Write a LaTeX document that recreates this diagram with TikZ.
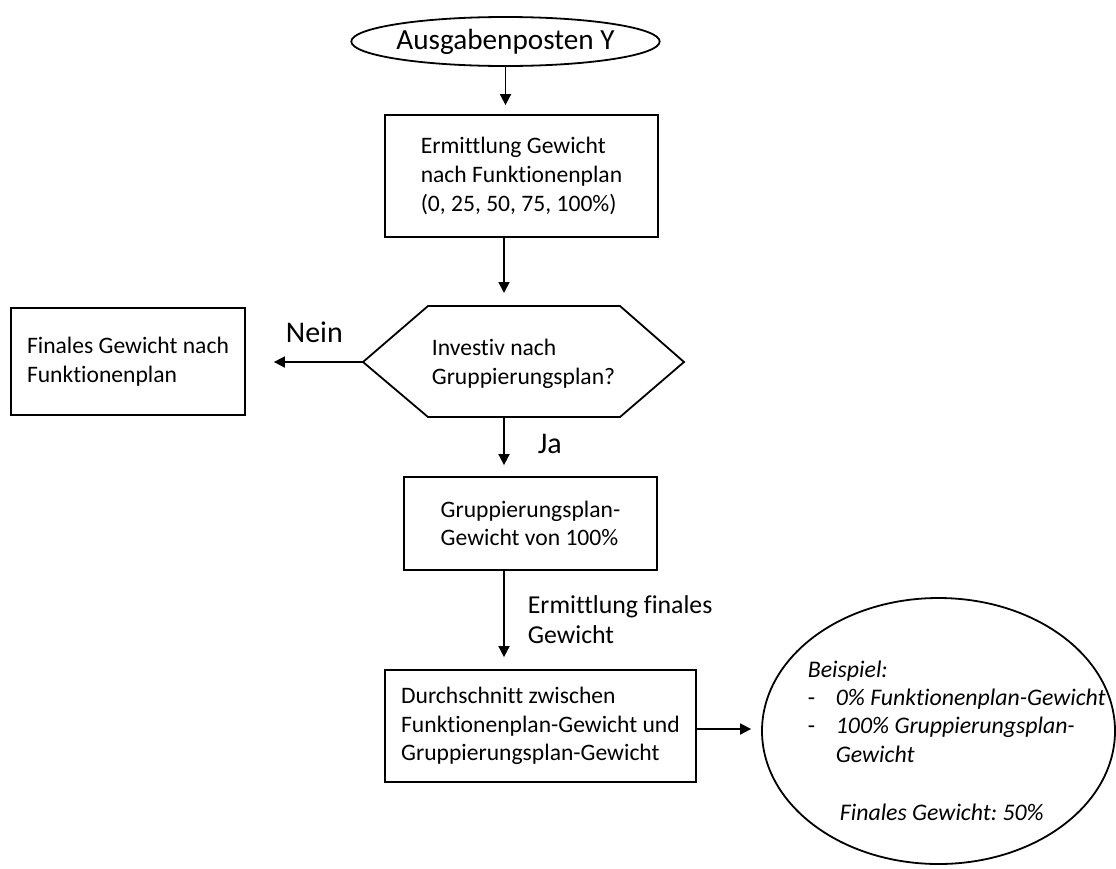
\documentclass[tikz,border=0pt]{standalone}
\usepackage{fontspec}
\setmainfont{Carlito}[Ligatures=NoCommon]
\frenchspacing
\usetikzlibrary{shapes.geometric,arrows.meta}
\begin{document}
\begin{tikzpicture}[x=1pt,y=-1pt, line width=1.8pt,
  box/.style={draw, rectangle, align=left, inner sep=0pt, font=\fontsize{23.6}{28.6}\selectfont},
  arr/.style={-{Triangle[length=11pt,width=11pt]}, shorten >=10pt},
  lbl/.style={font=\fontsize{30}{30}\selectfont, inner sep=0pt, anchor=base west, align=left}]
\useasboundingbox (0,0) rectangle (1116,868);

\node[draw, ellipse, minimum width=265pt, minimum height=49pt, inner sep=0pt,
      font=\fontsize{29.2}{30}\selectfont] (title) at (505.5,41.5) {Ausgabenposten Y};

\node[box, minimum width=273pt, minimum height=122pt] (b1) at (521.5,176)
  {Ermittlung Gewicht\\nach Funktionenplan\\(0, 25, 50, 75, 100\%)};

\coordinate (hexW) at (363,362);
\coordinate (hexE) at (684,362);
\coordinate (hexN) at (504,306);
\coordinate (hexS) at (504,417);
\draw (hexW) -- (428,306) -- (620,306) -- (hexE) -- (620,417) -- (428,417) -- cycle;
\node[box, draw=none] (hex) at (523.5,364) {Investiv nach\\Gruppierungsplan?};

\node[box, minimum width=234pt, minimum height=107pt] (b2) at (128,361.5)
  {Finales Gewicht nach\\Funktionenplan};

\node[box, minimum width=253pt, minimum height=93pt] (b3) at (530.5,523.5)
  {Gruppierungsplan-\\Gewicht von 100\%};

\node[box, minimum width=311pt, minimum height=112pt] (b4) at (540.5,726)
  {Durchschnitt zwischen\\Funktionenplan-Gewicht und\\Gruppierungsplan-Gewicht};

\node[draw, ellipse, minimum width=353pt, minimum height=266pt, inner sep=0pt] (ex) at (938.5,731) {};
\node[inner sep=0pt, anchor=base west, align=left, font=\fontsize{23.8}{28.3}\selectfont\itshape] (extext) at (807,820)
  {Beispiel:\\
   \makebox[28pt][l]{\upshape -}0\% Funktionenplan-Gewicht\\
   \makebox[28pt][l]{\upshape -}100\% Gruppierungsplan-\\
   \hspace*{28pt}Gewicht\\[29.5pt]
   \hspace*{32pt}Finales Gewicht: 50\%};

\node[lbl] (nein) at (285,342) {Nein};
\node[lbl] (ja) at (537,453) {Ja};
\node[lbl, font=\fontsize{25.8}{30}\selectfont] (ermf) at (527,643) {Ermittlung finales\\Gewicht};

\draw[arr, shorten >=9pt] (title.south) -- (title.south |- b1.north);
\draw[arr, shorten >=13pt] (b1.south -| hexN) -- (hexN);
\draw[arr, shorten >=28pt] (hexW) -- (hexW -| b2.east);
\draw[arr, shorten >=11pt] (hexS) -- (hexS |- b3.north);
\draw[arr, shorten >=12pt] (b3.south -| hexS) -- (hexS |- b4.north);
\draw[arr, shorten >=10pt] ([yshift=-3pt]b4.east) -- ([yshift=-3pt]b4.east -| ex.west);
\end{tikzpicture}
\end{document}
